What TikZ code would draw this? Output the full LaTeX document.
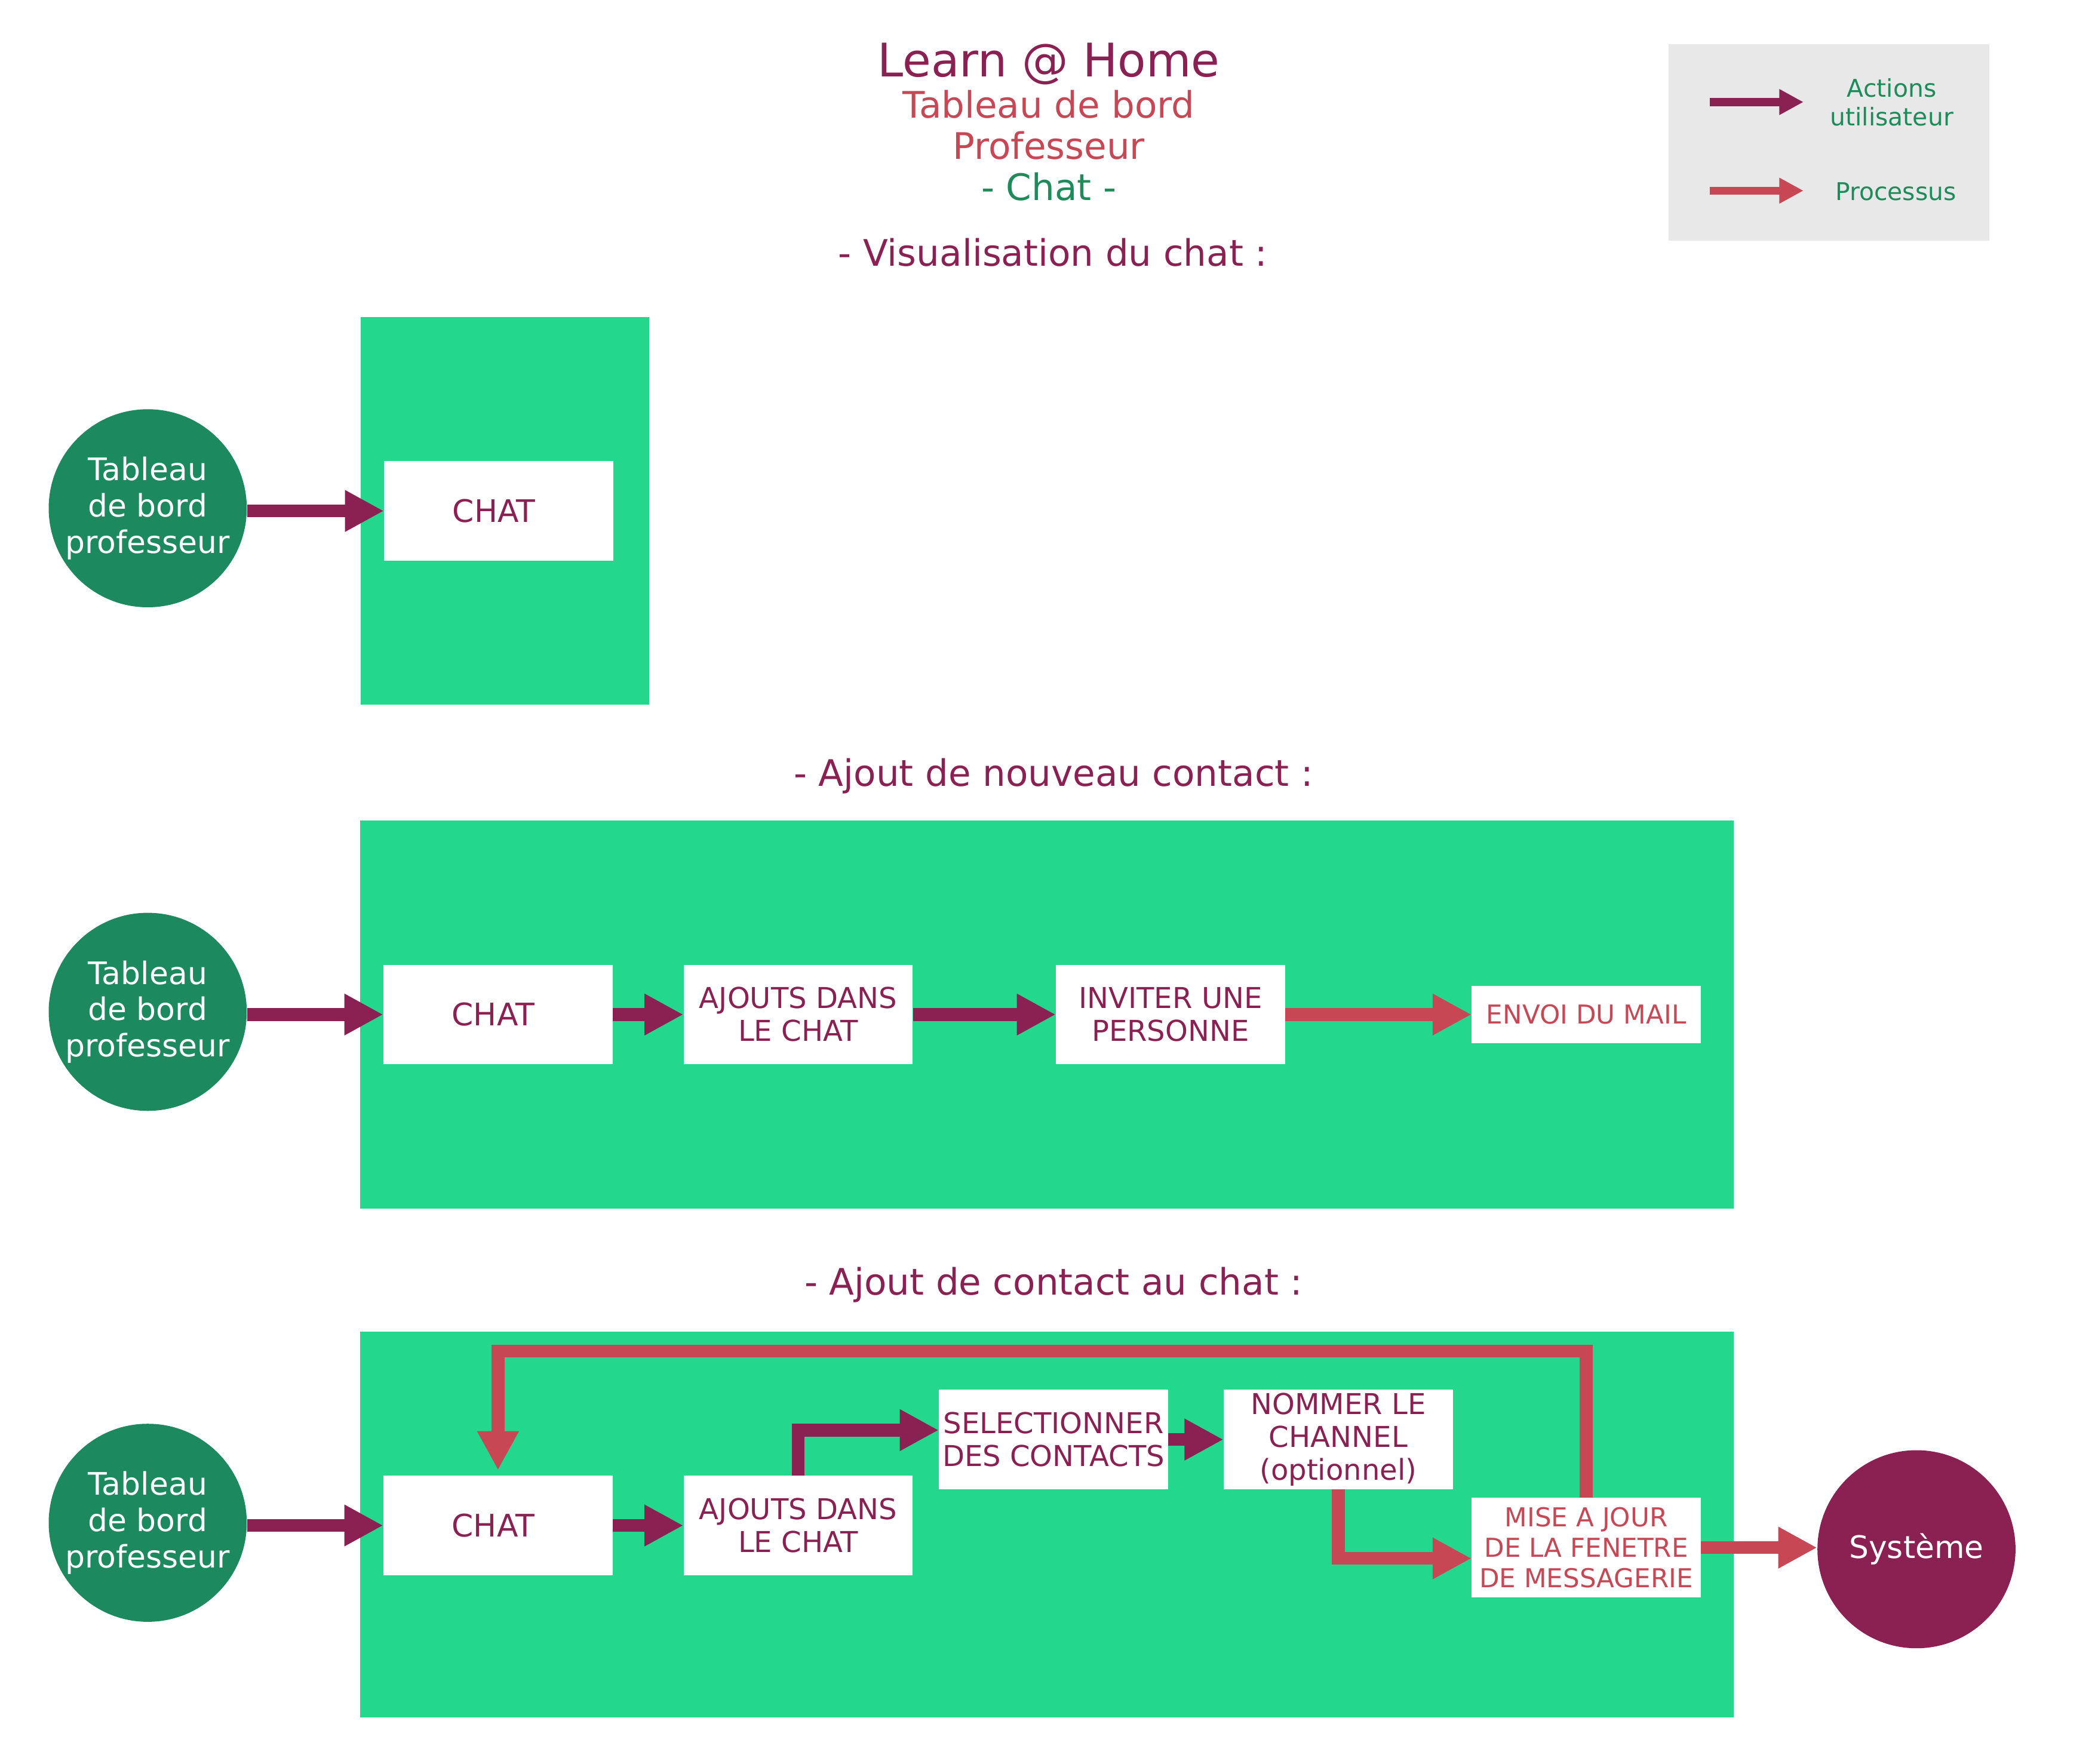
\documentclass[tikz,border=0pt]{standalone}
\usepackage{fontspec}
\setmainfont{DejaVu Sans}
\usetikzlibrary{arrows.meta}
\definecolor{cMar}{HTML}{8B2152}
\definecolor{cRed}{HTML}{C84755}
\definecolor{cLime}{HTML}{23D88C}
\definecolor{cDk}{HTML}{1C8A5E}
\definecolor{cTxtG}{HTML}{1E8C5A}
\definecolor{cGray}{HTML}{E8E8E8}
\tikzset{
  act/.style={draw=cMar, line width=9.5pt, -{Triangle[length=29pt,width=29pt]}},
  proc/.style={draw=cRed, line width=9.5pt, -{Triangle[length=29pt,width=29pt]}},
  legact/.style={draw=cMar, line width=6pt, -{Triangle[length=18pt,width=18pt]}},
  legproc/.style={draw=cRed, line width=6pt, -{Triangle[length=18pt,width=18pt]}},
  circ/.style={circle, fill=cDk, minimum size=147.5pt, inner sep=0pt, text=white, align=center, font=\fontsize{23.1}{27}\selectfont},
  sysc/.style={circ, fill=cMar},
  box/.style={rectangle, fill=white, minimum width=170.5pt, minimum height=74pt, inner sep=0pt, text=cMar, align=center, font=\fontsize{21.4}{24.5}\selectfont},
  chatbox/.style={box, font=\fontsize{23.1}{27}\selectfont},
  pbox/.style={box, text=cRed, font=\fontsize{19.4}{22.6}\selectfont},
  ttl/.style={anchor=base, inner sep=0pt, font=\fontsize{34.5}{41}\selectfont},
  sub/.style={anchor=base, inner sep=0pt, font=\fontsize{27.2}{32}\selectfont},
  legtxt/.style={inner sep=0pt, text=cTxtG, align=center, font=\fontsize{18.2}{21.4}\selectfont},
}
\begin{document}
\begin{tikzpicture}[x=0.9955pt,y=-1pt]
\useasboundingbox (0,0) rectangle (1567.05,1313.2);
% title
\node[ttl, text=cMar] (t1) at (784.5,57.1) {Learn @ Home};
\node[sub, text=cRed] (t2) at (784.5,87.9) {Tableau de bord};
\node[sub, text=cRed] (t3) at (784.5,118.5) {Professeur};
\node[sub, text=cTxtG] (t4) at (784.5,149.4) {- Chat -};
% legend
\fill[cGray] (1248,33) rectangle (1488,179);
\coordinate (la1) at (1279,76);
\coordinate (lb1) at (1349,76);
\coordinate (la2) at (1279,142);
\coordinate (lb2) at (1349,142);
\draw[legact] (la1) -- (lb1);
\draw[legproc] (la2) -- (lb2);
\node[legtxt, anchor=base] (lt1) at (1415,93.7) {Actions\\utilisateur};
\node[legtxt, anchor=base] (lt2) at (1418,149.4) {Processus};
% ---------- section 1
\node[sub, text=cMar] (s1) at (787.5,198) {- Visualisation du chat :};
\fill[cLime] (270,236) rectangle (485.5,524.6);
\node[circ] (tb1) at (110.5,378.5) {Tableau\\de bord\\professeur};
\node[chatbox] (chat1) at (373,380.5) {CHAT\kern7pt};
\draw[act] (tb1.east |- chat1.west) -- (chat1.west);
% ---------- section 2
\node[sub, text=cMar] (s2) at (788,585.5) {- Ajout de nouveau contact :};
\fill[cLime] (269.5,611) rectangle (1297,900);
\node[circ] (tb2) at (110.5,753.5) {Tableau\\de bord\\professeur};
\node[chatbox] (chat2) at (372.5,755.5) {CHAT\kern7pt};
\node[box] (aj2) at (597,755.5) {AJOUTS DANS\\LE CHAT};
\node[box] (inv2) at (875.5,755.5) {INVITER UNE\\PERSONNE};
\node[pbox, minimum height=43pt] (mail2) at (1186.5,755.5) {ENVOI DU MAIL};
\draw[act] (tb2.east |- chat2.west) -- (chat2.west);
\draw[act] (chat2.east) -- (aj2.west);
\draw[act] (aj2.east) -- (inv2.west);
\draw[proc] (inv2.east) -- (mail2.west);
% ---------- section 3
\node[sub, text=cMar] (s3) at (788,964.5) {- Ajout de contact au chat :};
\fill[cLime] (269.5,991.5) rectangle (1297,1279);
\node[circ] (tb3) at (110.5,1134) {Tableau\\de bord\\professeur};
\node[chatbox] (chat3) at (372.5,1136) {CHAT\kern7pt};
\node[box] (aj3) at (597,1136) {AJOUTS DANS\\LE CHAT};
\node[box] (sel) at (788,1072) {SELECTIONNER\\DES CONTACTS};
\node[box] (nom) at (1001,1072) {NOMMER LE\\CHANNEL\\(optionnel)};
\node[pbox] (mise) at (1186.5,1152.5) {MISE A JOUR\\DE LA FENETRE\\DE MESSAGERIE};
\node[sysc] (sys) at (1433.5,1153.7) {Système};
\coordinate (loopy) at (0,1006);
\draw[act] (tb3.east |- chat3.west) -- (chat3.west);
\draw[act] (chat3.east) -- (aj3.west);
\draw[act] (aj3.north) |- ([yshift=7pt]sel.west);
\draw[act] (sel.east) -- (nom.west);
\draw[proc] (nom.south) |- ([yshift=-8pt]mise.west);
\draw[proc] (mise.east) -- (mise.east -| sys.west);
\draw[proc, shorten >=4pt] (mise.north) -- (mise.north |- loopy) -| (chat3.north);
\end{tikzpicture}
\end{document}
